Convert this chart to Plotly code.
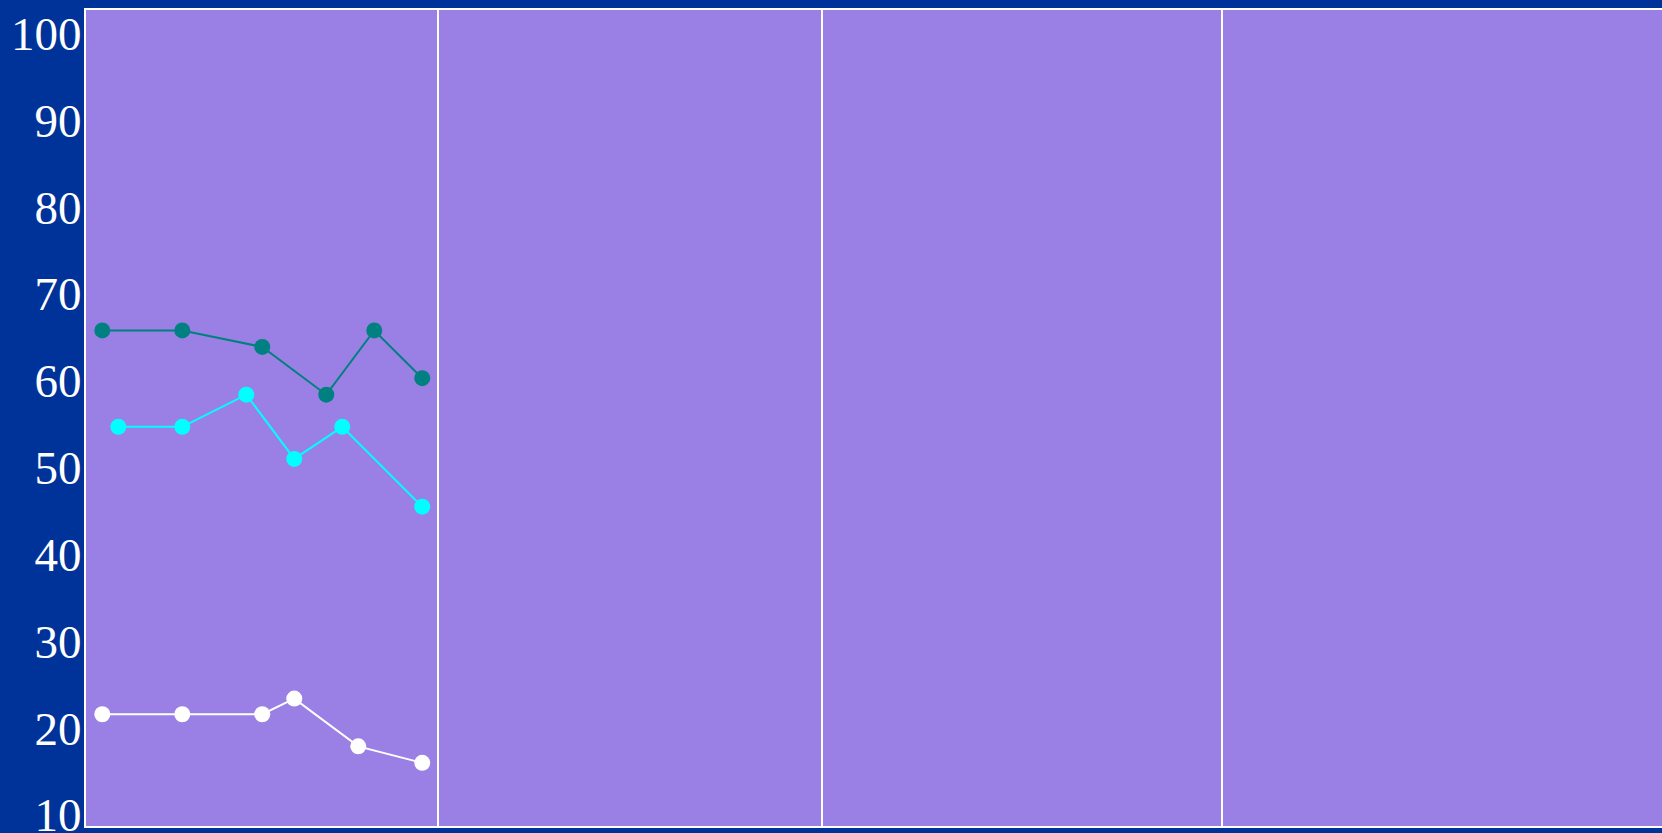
import plotly.graph_objects as go

# x positions (period index) and values
x_teal = [0, 5, 10, 14, 17, 20]
y_teal = [65.8, 65.8, 63.9, 58.4, 65.8, 60.3]

x_cyan = [1, 5, 9, 12, 15, 20]
y_cyan = [54.7, 54.7, 58.4, 51.0, 54.7, 45.5]

x_white = [0, 5, 10, 12, 16, 20]
y_white = [21.6, 21.6, 21.6, 23.4, 17.9, 16.0]

grid_x = [21, 45, 70]
y_ticks = [10, 20, 30, 40, 50, 60, 70, 80, 90, 100]

BG = "#003399"
PLOT = "#9A80E4"

fig = go.Figure()
for xs, ys, col in [(x_teal, y_teal, "#008080"), (x_cyan, y_cyan, "#00FFFF"), (x_white, y_white, "#FFFFFF")]:
    fig.add_trace(go.Scatter(x=xs, y=ys, mode="lines+markers",
                             line=dict(color=col, width=2),
                             marker=dict(color=col, size=16),
                             showlegend=False, hoverinfo="skip"))

fig.update_layout(
    width=1662, height=833,
    paper_bgcolor=BG, plot_bgcolor=PLOT,
    margin=dict(l=86, r=0, t=10, b=7, autoexpand=False),
    font=dict(family="Liberation Serif", color="white", size=47),
)
fig.update_xaxes(range=[-1.02, 97.5], tickvals=grid_x, showticklabels=False,
                 showgrid=True, gridcolor="white", gridwidth=2, zeroline=False,
                 showline=True, linecolor="white", linewidth=2, mirror=True, ticks="",
                 automargin=False)
fig.update_yaxes(range=[8.73, 102.7], tickvals=y_ticks, showgrid=False, zeroline=False,
                 showline=True, linecolor="white", linewidth=2, mirror=True, ticks="",
                 ticklen=0, ticklabelstandoff=-7, ticklabeloverflow="allow",
                 automargin=False)

fig.write_html("out.html", config={"displayModeBar": False})

with open("out.html", "r", encoding="utf-8") as f:
    html = f.read()
html = html.replace("<head>", "<head><style>html,body{margin:0;padding:0;overflow:hidden;background:#003399;}</style>", 1)
with open("out.html", "w", encoding="utf-8") as f:
    f.write(html)
